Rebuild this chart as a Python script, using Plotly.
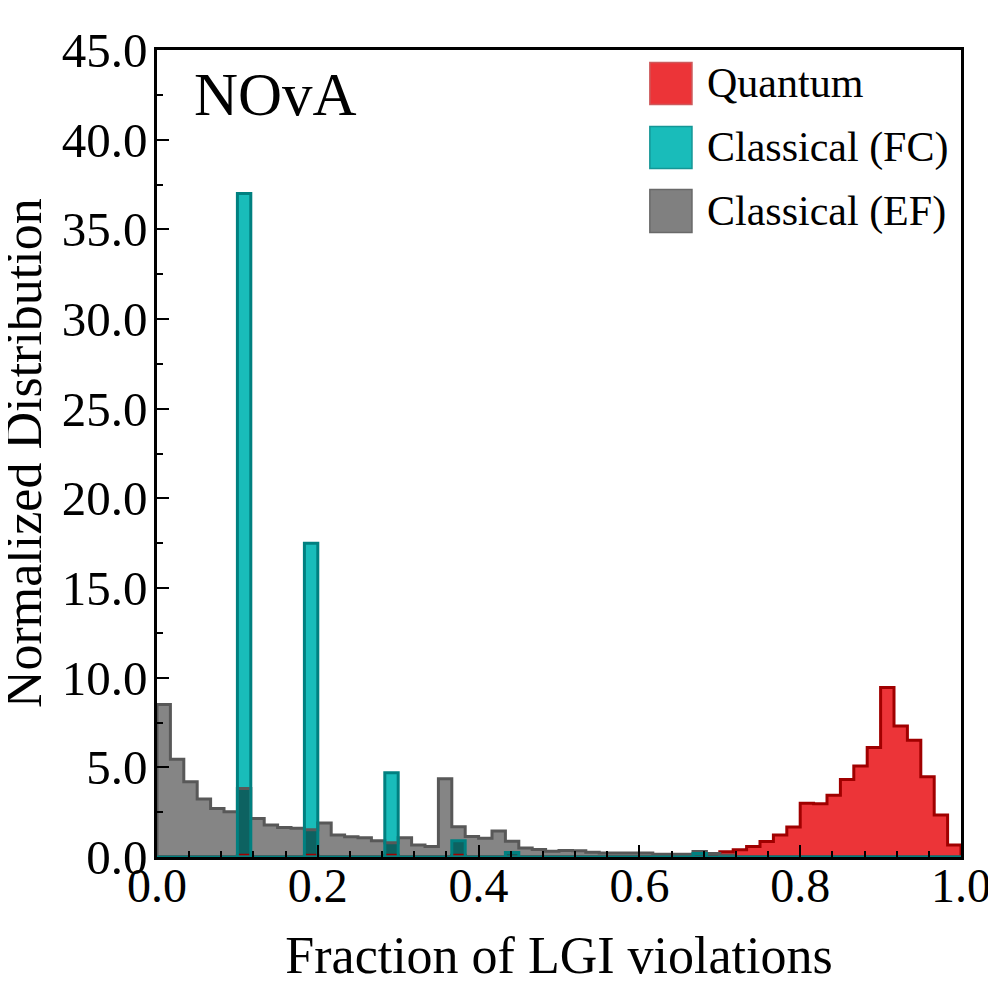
import numpy as np
import plotly.graph_objects as go

# 60 equal bins on [0, 1]
n_bins = 60
bin_edges = np.linspace(0, 1, n_bins + 1)

quantum = [0, 0, 0, 0, 0, 0, 0.1, 0, 0, 0,
           0, 0.1, 0, 0, 0, 0, 0, 0.1, 0, 0,
           0, 0, 0.1, 0, 0, 0, 0, 0, 0, 0,
           0, 0, 0, 0, 0, 0, 0, 0, 0, 0,
           0, 0.05, 0.29, 0.41, 0.58, 0.87, 1.22, 1.67, 3.0, 2.97,
           3.45, 4.32, 5.08, 6.1, 9.45, 7.31, 6.51, 4.47, 2.34, 0.67]

classical_fc = [0, 0, 0, 0, 0, 0, 37.0, 0, 0, 0,
                0, 17.5, 0, 0, 0, 0, 0, 4.7, 0, 0,
                0, 0, 0.9, 0, 0, 0, 0.25, 0, 0, 0,
                0, 0, 0, 0, 0, 0, 0, 0, 0, 0,
                0.2, 0, 0, 0, 0, 0, 0, 0, 0, 0,
                0, 0, 0, 0, 0, 0, 0, 0, 0, 0]

classical_ef = [8.5, 5.45, 4.2, 3.23, 2.71, 2.52, 3.82, 2.15, 1.78, 1.65,
                1.6, 1.52, 1.89, 1.22, 1.13, 1.08, 0.91, 0.8, 1.08, 0.67,
                0.58, 4.37, 1.68, 1.15, 1.04, 1.45, 0.88, 0.5, 0.42, 0.32,
                0.36, 0.35, 0.27, 0.23, 0.23, 0.23, 0.23, 0.15, 0.15, 0.15,
                0.3, 0.2, 0.1, 0, 0, 0, 0, 0, 0, 0,
                0, 0, 0, 0, 0, 0, 0, 0, 0, 0]

labels = ['Quantum', 'Classical (FC)', 'Classical (EF)']

FONT = 'Liberation Serif'


def step_outline(vals):
    # closed stepped outline of a histogram (like matplotlib stepfilled)
    xs = [0] + list(bin_edges) + [1, 0]
    ys = [0] + list(vals) + [vals[-1], 0, 0]
    return xs, ys


fig = go.Figure()

fills = [(classical_fc, 'rgb(25,188,186)'),
         (classical_ef, 'rgba(0,0,0,0.48)'),
         (quantum, 'rgb(236,52,56)')]
edges = [(quantum, 'rgb(160,0,0)'),
         (classical_ef, 'rgb(88,88,88)'),
         (classical_fc, 'rgb(0,128,128)')]

for vals, fill in fills:
    fig.add_trace(go.Bar(x=bin_edges[:-1], y=vals, width=1 / n_bins, offset=0,
                         marker=dict(color=fill, line=dict(width=0)),
                         showlegend=False, hoverinfo='skip'))
for vals, edge in edges:
    xs, ys = step_outline(vals)
    fig.add_trace(go.Scatter(x=xs, y=ys, mode='lines', line_shape='hv',
                             line=dict(color=edge, width=3),
                             showlegend=False, hoverinfo='skip'))

# hand-made legend (big square patches like the original)
patch_cols = [('rgb(236,52,56)', 'rgb(205,90,92)'),
              ('rgb(25,188,186)', 'rgb(20,150,150)'),
              ('rgb(128,128,128)', 'rgb(105,105,105)')]
patch_y = [(0.9325, 0.9845), (0.8532, 0.9052), (0.7738, 0.8271)]
for (fc, ec), (y0, y1), lab in zip(patch_cols, patch_y, labels):
    fig.add_shape(type='rect', xref='paper', yref='paper',
                  x0=0.613, x1=0.6654, y0=y0, y1=y1,
                  fillcolor=fc, line=dict(color=ec, width=1.5))
    fig.add_annotation(xref='paper', yref='paper', x=0.6816, y=(y0 + y1) / 2,
                       text=lab, showarrow=False, xanchor='left', yanchor='middle',
                       font=dict(family=FONT, size=42, color='black'))

fig.add_annotation(xref='paper', yref='paper', x=0.148, y=0.945, text='NOvA',
                   showarrow=False, xanchor='center', yanchor='middle',
                   font=dict(family=FONT, size=61, color='black'))

# y axis title placed by hand so it sits close to the page edge
fig.add_annotation(xref='paper', yref='paper', x=-0.166, y=0.5,
                   text='Normalized Distribution', textangle=-90, showarrow=False,
                   xanchor='center', yanchor='middle',
                   font=dict(family=FONT, size=52, color='black'))

fig.update_layout(
    width=988, height=988,
    margin=dict(l=149, r=35, t=42, b=139),
    paper_bgcolor='white', plot_bgcolor='white',
    barmode='overlay', bargap=0,
    font=dict(family=FONT, color='black'),
    showlegend=False,
)

fig.update_xaxes(
    range=[0, 1], dtick=0.2, tickformat='.1f', automargin=False,
    showgrid=False, zeroline=False,
    showline=True, linecolor='black', linewidth=2.5, mirror=True,
    ticks='inside', ticklen=12, tickwidth=2, tickcolor='black',
    minor=dict(dtick=0.04, ticks='inside', ticklen=6, tickwidth=2, tickcolor='black'),
    tickfont=dict(family=FONT, size=48), ticklabelstandoff=-15,
    title=dict(text='Fraction of LGI violations', font=dict(family=FONT, size=52), standoff=26),
)
fig.update_yaxes(
    range=[0, 45], dtick=5, tickformat='.1f', automargin=False,
    showgrid=False, zeroline=False,
    showline=True, linecolor='black', linewidth=2.5, mirror=True,
    ticks='inside', ticklen=12, tickwidth=2, tickcolor='black',
    minor=dict(dtick=2.5, ticks='inside', ticklen=6, tickwidth=2, tickcolor='black'),
    tickfont=dict(family=FONT, size=49), ticklabelstandoff=-3,
)

fig.write_html("out.html")
